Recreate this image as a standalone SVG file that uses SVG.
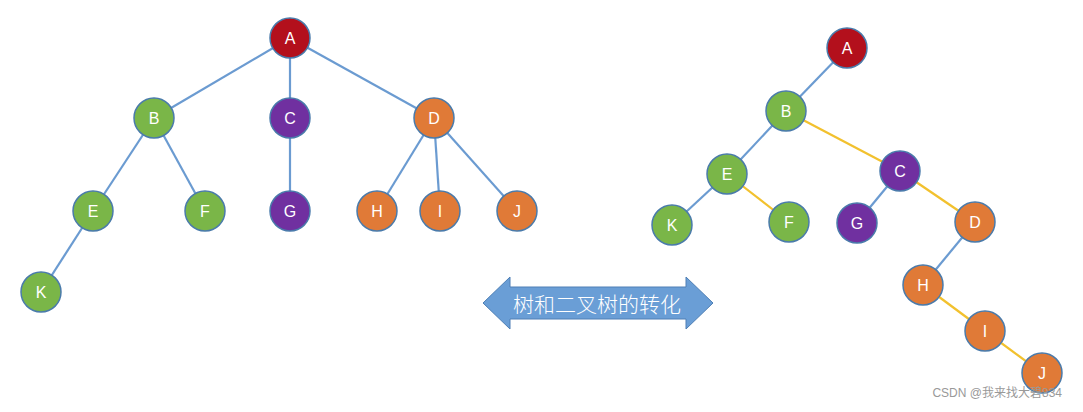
<svg xmlns="http://www.w3.org/2000/svg" width="1083" height="412" viewBox="0 0 1083 412">
<style>
.n circle{stroke:#4a7bab;stroke-width:1.5}
.n text{font-family:"Liberation Sans","Noto Sans",sans-serif;font-size:16px;fill:#fff;text-anchor:middle;dominant-baseline:central}
.red circle{fill:#b3101c}
.green circle{fill:#7ab648}
.purple circle{fill:#7030a0}
.orange circle{fill:#e07a37}
.b{stroke:#6b9bd1;stroke-width:2.2}
.y{stroke:#f2c12e;stroke-width:2.2}
</style>
<rect width="1083" height="412" fill="#fff"/>
<g id="connectors">
<line class="b" x1="290" y1="38" x2="154" y2="118"/>
<line class="b" x1="290" y1="38" x2="290" y2="118"/>
<line class="b" x1="290" y1="38" x2="434" y2="118"/>
<line class="b" x1="154" y1="118" x2="93" y2="211"/>
<line class="b" x1="154" y1="118" x2="205" y2="211"/>
<line class="b" x1="290" y1="118" x2="290" y2="211"/>
<line class="b" x1="434" y1="118" x2="377" y2="211"/>
<line class="b" x1="434" y1="118" x2="440" y2="211"/>
<line class="b" x1="434" y1="118" x2="517" y2="211"/>
<line class="b" x1="93" y1="211" x2="41" y2="292"/>
<line class="b" x1="847" y1="48" x2="786" y2="111"/>
<line class="b" x1="786" y1="111" x2="727" y2="174"/>
<line class="y" x1="786" y1="111" x2="900" y2="171"/>
<line class="b" x1="727" y1="174" x2="672" y2="225"/>
<line class="y" x1="727" y1="174" x2="789" y2="222"/>
<line class="b" x1="900" y1="171" x2="857" y2="223"/>
<line class="y" x1="900" y1="171" x2="975" y2="222"/>
<line class="b" x1="975" y1="222" x2="923" y2="285"/>
<line class="y" x1="923" y1="285" x2="985" y2="331"/>
<line class="y" x1="985" y1="331" x2="1042" y2="373"/>
</g>
<g id="L_A" class="n red"><circle cx="290" cy="38" r="20"/><text x="290" y="38">A</text></g>
<g id="L_B" class="n green"><circle cx="154" cy="118" r="20"/><text x="154" y="118">B</text></g>
<g id="L_C" class="n purple"><circle cx="290" cy="118" r="20"/><text x="290" y="118">C</text></g>
<g id="L_D" class="n orange"><circle cx="434" cy="118" r="20"/><text x="434" y="118">D</text></g>
<g id="L_E" class="n green"><circle cx="93" cy="211" r="20"/><text x="93" y="211">E</text></g>
<g id="L_F" class="n green"><circle cx="205" cy="211" r="20"/><text x="205" y="211">F</text></g>
<g id="L_G" class="n purple"><circle cx="290" cy="211" r="20"/><text x="290" y="211">G</text></g>
<g id="L_H" class="n orange"><circle cx="377" cy="211" r="20"/><text x="377" y="211">H</text></g>
<g id="L_I" class="n orange"><circle cx="440" cy="211" r="20"/><text x="440" y="211">I</text></g>
<g id="L_J" class="n orange"><circle cx="517" cy="211" r="20"/><text x="517" y="211">J</text></g>
<g id="L_K" class="n green"><circle cx="41" cy="292" r="20"/><text x="41" y="292">K</text></g>
<g id="R_A" class="n red"><circle cx="847" cy="48" r="20"/><text x="847" y="48">A</text></g>
<g id="R_B" class="n green"><circle cx="786" cy="111" r="20"/><text x="786" y="111">B</text></g>
<g id="R_C" class="n purple"><circle cx="900" cy="171" r="20"/><text x="900" y="171">C</text></g>
<g id="R_E" class="n green"><circle cx="727" cy="174" r="20"/><text x="727" y="174">E</text></g>
<g id="R_F" class="n green"><circle cx="789" cy="222" r="20"/><text x="789" y="222">F</text></g>
<g id="R_K" class="n green"><circle cx="672" cy="225" r="20"/><text x="672" y="225">K</text></g>
<g id="R_G" class="n purple"><circle cx="857" cy="223" r="20"/><text x="857" y="223">G</text></g>
<g id="R_D" class="n orange"><circle cx="975" cy="222" r="20"/><text x="975" y="222">D</text></g>
<g id="R_H" class="n orange"><circle cx="923" cy="285" r="20"/><text x="923" y="285">H</text></g>
<g id="R_I" class="n orange"><circle cx="985" cy="331" r="20"/><text x="985" y="331">I</text></g>
<g id="R_J" class="n orange"><circle cx="1042" cy="373" r="20"/><text x="1042" y="373">J</text></g>
<g id="arrow">
<polygon points="483,303 510,277 510,287 686,287 686,277 713,303 686,329 686,319 510,319 510,329" fill="#6a9ed6" stroke="#4e7fb5" stroke-width="1"/>
<text x="597" y="303" font-family="'Noto Sans CJK SC',sans-serif" font-size="21" font-weight="300" fill="#fff" text-anchor="middle" dominant-baseline="central">树和二叉树的转化</text>
</g>
<text x="1062" y="397" font-family="'Liberation Sans','Noto Sans CJK SC',sans-serif" font-size="12" fill="#999" text-anchor="end">CSDN @我来找大碧834</text>
</svg>
